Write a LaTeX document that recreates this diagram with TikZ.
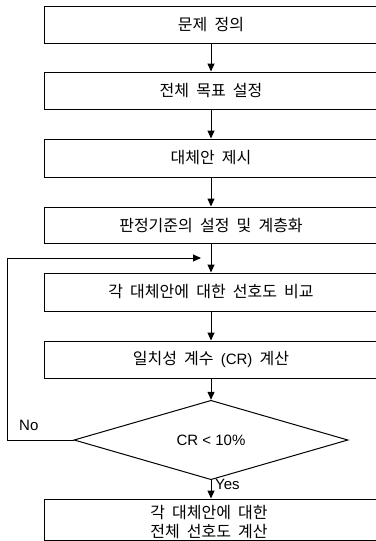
\documentclass[tikz,border=0pt]{standalone}
\usepackage{fontspec}
\setmainfont{Liberation Sans}
\newfontfamily\kr[WordSpace=2]{Noto Sans CJK KR}
\usetikzlibrary{arrows.meta,shapes.geometric}
\begin{document}
\begin{tikzpicture}[x=1pt,y=-1pt,
  box/.style={draw,line width=1pt,minimum width=334pt,inner sep=0pt,align=center,font=\fontsize{16}{19}\selectfont\kr},
  txt/.style={inner sep=0pt,align=center,font=\fontsize{16}{19}\selectfont\kr},
  arr/.style={line width=1pt,-{Triangle[length=8pt,width=7pt]}},
  lbl/.style={font=\fontsize{15}{18}\selectfont,inner sep=0pt}]
\useasboundingbox (0,0) rectangle (375,541);
\node[box,minimum height=37pt] (b1) at (211,24.5) {문제 정의};
\node[box,minimum height=37pt] (b2) at (211,90.5) {전체 목표 설정};
\node[box,minimum height=38pt] (b3) at (211,158) {대체안 제시};
\node[box,minimum height=36pt] (b4) at (211,225) {판정기준의 설정 및 계층화};
\node[box,minimum height=38pt] (b5) at (211,292) {각 대체안에 대한 선호도 비교};
\node[box,minimum height=37pt] (b6) at (211,359.5) {일치성 계수 {\rmfamily\fontsize{15}{18}\selectfont(CR)} 계산};
\node[draw,line width=1pt,diamond,minimum width=274pt,minimum height=64pt,inner sep=0pt,font=\fontsize{15}{18}\selectfont] (d) at (211,440) {CR < 10\%};
\node[draw,line width=1pt,minimum width=334pt,minimum height=41pt,inner sep=0pt] (b7) at (211,519.5) {};
\node[txt] (b7t) at (209,522.5) {각 대체안에 대한\\전체 선호도 계산};
\draw[arr] (b1) -- (b2);
\draw[arr] (b2) -- (b3);
\draw[arr] (b3) -- (b4);
\draw[arr] (b4) -- (b5);
\draw[arr] (b5) -- (b6);
\draw[arr] (b6) -- (d);
\draw[arr] (d) -- (b7);
\coordinate (L) at (7,440);
\coordinate (J) at (201,258);
\draw[arr] (d.west) -- (L) |- (J);
\node[lbl,anchor=west] (no) at (19,425) {No};
\node[lbl,anchor=west] (yes) at (215,484) {Yes};
\end{tikzpicture}
\end{document}
